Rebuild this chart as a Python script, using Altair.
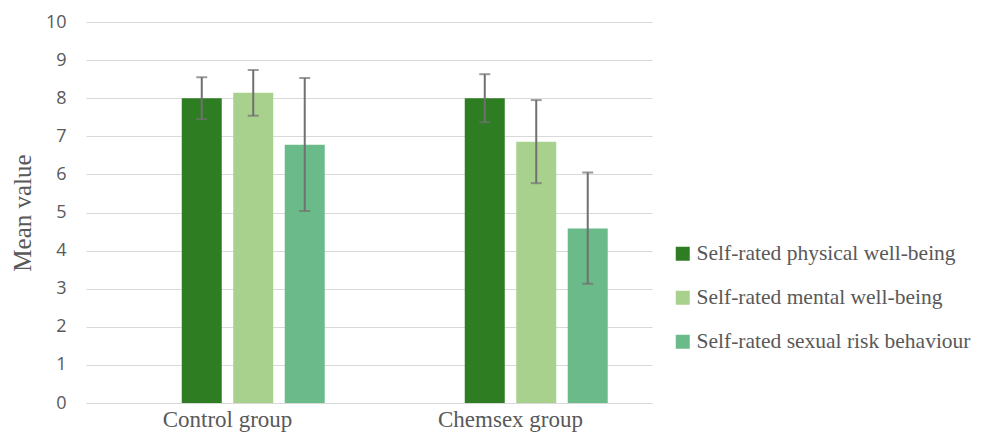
import altair as alt
import pandas as pd

groups = ["Control group", "Chemsex group"]
series = ["Self-rated physical well-being", "Self-rated mental well-being", "Self-rated sexual risk behaviour"]
slots = ["", "s1", "s2", "s3"]  # first slot is an empty series, as in the original
means = [[8.00, 8.14, 6.78], [8.00, 6.86, 4.58]]
err_low = [[7.45, 7.54, 5.04], [7.37, 5.77, 3.13]]
err_high = [[8.55, 8.74, 8.53], [8.63, 7.95, 6.05]]
colors = ["#2e7d23", "#a9d18e", "#6bba89"]
y_ticks = list(range(11))

rows = []
for gi, g in enumerate(groups):
    for si, s in enumerate(series):
        rows.append({"group": g, "series": s, "slot": slots[si + 1],
                     "mean": means[gi][si], "lo": err_low[gi][si], "hi": err_high[gi][si]})
df = pd.DataFrame(rows)

yaxis = alt.Axis(values=y_ticks, title="Mean value")
x = alt.X("group:N", sort=groups, title=None,
          scale=alt.Scale(paddingInner=0, paddingOuter=0))
xo = alt.XOffset("slot:N", scale=alt.Scale(domain=slots, paddingInner=0.223, paddingOuter=0.86))
yscale = alt.Scale(domain=[0, 10])

base = alt.Chart(df)

bars = base.mark_bar().encode(
    x=x, xOffset=xo,
    y=alt.Y("mean:Q", scale=yscale, axis=yaxis),
    color=alt.Color("series:N", sort=series,
                    scale=alt.Scale(domain=series, range=colors),
                    legend=alt.Legend(title=None, orient="none", legendX=586, legendY=221,
                                      symbolType="square", symbolSize=196, symbolStrokeWidth=0,
                                      symbolOpacity=1,
                                      labelFont="Liberation Serif", labelFontSize=21.5,
                                      labelColor="#595959", rowPadding=21, labelLimit=400,
                                      labelOffset=3)),
)

rules = base.mark_rule(color="#707070", strokeWidth=2).encode(
    x=x, xOffset=xo,
    y=alt.Y("lo:Q", scale=yscale, axis=yaxis), y2="hi:Q")

cap_lo = base.mark_tick(color="#707070", thickness=2, size=11).encode(
    x=x, xOffset=xo, y=alt.Y("lo:Q", scale=yscale, axis=yaxis))
cap_hi = base.mark_tick(color="#707070", thickness=2, size=11).encode(
    x=x, xOffset=xo, y=alt.Y("hi:Q", scale=yscale, axis=yaxis))

chart = alt.layer(bars, rules, cap_lo, cap_hi).properties(
    width=566, height=381,
    background="white",
    autosize=alt.AutoSizeParams(type="none"),
    padding={"left": 78, "top": 14, "right": 325, "bottom": 35},
).configure_view(strokeWidth=0).configure_axisY(
    gridColor="#d9d9d9", domain=False, ticks=False,
    labelFont="Open Sans", labelFontSize=18, labelColor="#595959",
    labelPadding=20, titleFont="Liberation Serif", titleFontSize=25,
    titleFontWeight="normal", titleColor="#595959", titlePadding=10,
).configure_axisX(
    labelAngle=0, labelFont="Liberation Serif", labelFontSize=23,
    labelColor="#595959", ticks=False, domain=True, domainColor="#d9d9d9",
    labelPadding=5, grid=False,
)

chart.save("out.html", embed_options={"renderer": "svg", "actions": False})
